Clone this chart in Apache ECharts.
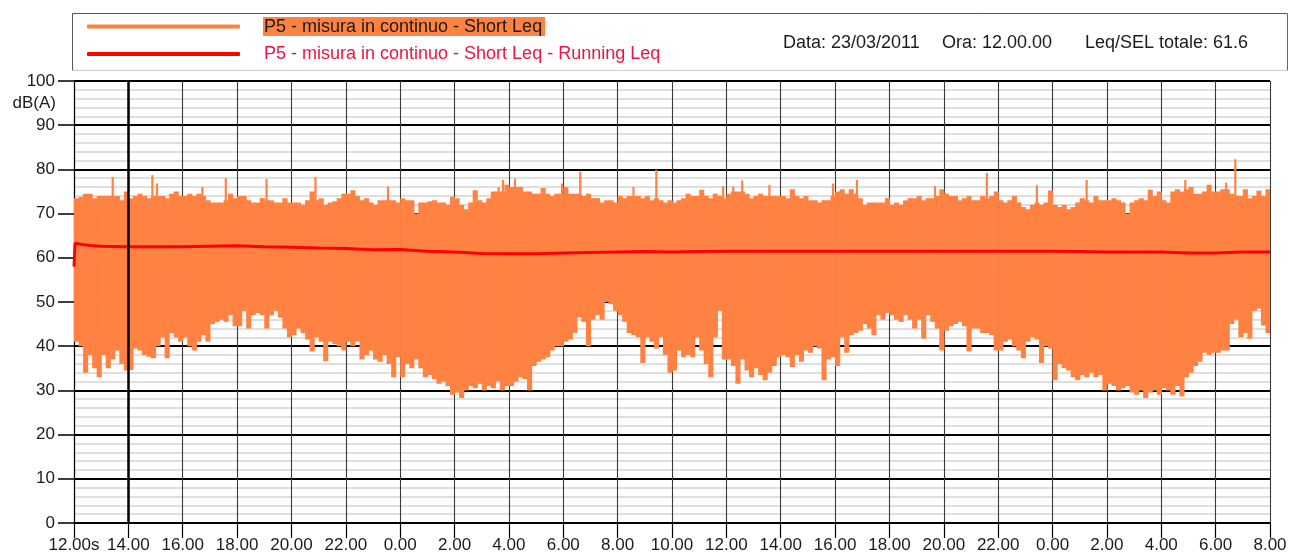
<!DOCTYPE html>
<html>
<head>
<meta charset="utf-8">
<script src="https://cdn.jsdelivr.net/npm/echarts@6/dist/echarts.min.js"></script>
<style>
  html, body { margin: 0; padding: 0; background: #ffffff; }
  #chart { width: 1290px; height: 556px; }
</style>
</head>
<body>
<div id="chart"></div>
<script>
// P5 continuous measurement, started 23/03/2011 at 12.00.00.
// Short Leq envelope: highest and lowest level in each 10-minute block, dB(A).
const blockMinutes = 10;

const shortLeqMax = [
  // 12.00 - 14.00
  73.5, 73.8, 74.5, 74.5, 73.5, 74, 74, 74, 74, 74, 73, 75,
  // 14.00 - 16.00
  73.5, 74, 74.5, 74, 73.5, 74, 74, 74, 73.5, 74.5, 75, 74,
  // 16.00 - 18.00
  74, 74.5, 74, 74.5, 74, 73, 72.5, 72.5, 72.5, 73, 74.5, 73.5,
  // 18.00 - 20.00
  74, 74, 73, 72.5, 72.5, 73.5, 73, 73, 72.5, 72.5, 73.5, 72.5,
  // 20.00 - 22.00
  72.5, 72.5, 72, 73, 75, 73, 73.5, 72, 72.5, 72.8, 73.5, 74.5,
  // 22.00 - 0.00
  74.5, 75.3, 74, 73, 73.5, 72.5, 72, 73, 73, 73, 73, 72.5,
  // 0.00 - 2.00
  73.5, 73, 73, 70, 72.5, 72.5, 72.8, 73, 72.5, 72.5, 72, 73.8,
  // 2.00 - 4.00
  73.5, 72, 71, 72.5, 75.3, 73, 72.5, 73.5, 75, 75, 75, 76.5,
  // 4.00 - 6.00
  76, 76, 76, 75, 75, 74.5, 74.5, 75.8, 74.5, 74, 74.5, 74.5,
  // 6.00 - 8.00
  76, 74.5, 74.5, 74.5, 74, 74.5, 73.5, 73.5, 72.5, 73, 73, 72.5,
  // 8.00 - 10.00
  74, 73.5, 74, 74, 74, 73.5, 74, 73, 73.5, 73, 72.5, 73,
  // 10.00 - 12.00
  72.5, 73, 73.5, 74.5, 74, 74, 75.4, 74, 73.5, 74.5, 74, 73.5,
  // 12.00 - 14.00
  74.5, 75, 75, 75, 74.5, 73.5, 74, 74.5, 74, 74, 74, 74,
  // 14.00 - 16.00
  74, 73.5, 75.5, 74, 73.5, 74, 73, 73, 72.5, 73, 73, 74,
  // 16.00 - 18.00
  75, 75.5, 74.5, 75.5, 74.5, 73.5, 72, 72.5, 72.5, 72.5, 72.5, 73.5,
  // 18.00 - 20.00
  72, 72.5, 72, 73, 73.5, 73.5, 74, 73, 73.5, 73.5, 74, 75.5,
  // 20.00 - 22.00
  74.5, 74, 74, 73, 73.5, 74, 73, 73, 74, 73.5, 74, 75,
  // 22.00 - 0.00
  73, 72.5, 73, 74, 72.5, 71.5, 71, 72, 72.5, 72, 72.5, 75.2,
  // 0.00 - 2.00
  72, 71.5, 72, 71, 71.5, 72.5, 73.5, 73, 72.5, 74, 73, 73,
  // 2.00 - 4.00
  73, 73.5, 73, 72.5, 70, 72.5, 73, 73.5, 73, 75.4, 74, 75,
  // 4.00 - 6.00
  73, 72.5, 75, 75.5, 75, 75.5, 76, 74.5, 74.5, 75, 76.5, 75,
  // 6.00 - 8.00
  75, 75.5, 75.5, 74.5, 74, 74, 75.5, 73.5, 74, 75.2, 74, 75.5
];

const shortLeqMin = [
  // 12.00 - 14.00
  41, 40, 34, 38, 35, 33, 38, 35, 37, 39, 36, 34.5,
  // 14.00 - 16.00
  34.6, 39.5, 39, 38, 37.6, 37.3, 40, 42, 37.3, 43, 42, 41,
  // 16.00 - 18.00
  42, 40, 39, 41, 42.5, 41, 45, 45.5, 46, 45.5, 47, 44.5,
  // 18.00 - 20.00
  44.5, 48, 44, 47, 47.5, 47, 44, 47, 48, 46.5, 44, 42,
  // 20.00 - 22.00
  42.5, 44, 43, 41.5, 38.8, 42, 41, 36.6, 41, 40.5, 40, 39,
  // 22.00 - 0.00
  41, 40, 41, 37, 38, 39, 37, 36.5, 38, 36, 33, 37.5,
  // 0.00 - 2.00
  33, 36, 35, 37, 35, 33, 33.5, 32.5, 31.5, 32, 31, 29,
  // 2.00 - 4.00
  29.5, 28.3, 30, 31, 30.5, 31.5, 30, 31, 30.5, 32, 30, 31,
  // 4.00 - 6.00
  31, 32, 33, 32.5, 30, 35.5, 36.5, 37, 37.5, 39, 40, 40,
  // 6.00 - 8.00
  41, 41.5, 43, 46.5, 45.5, 40, 46, 47, 46, 50, 49.5, 48,
  // 8.00 - 10.00
  47, 45.5, 43, 42.5, 42, 36.2, 42, 41, 39.5, 42, 38, 34,
  // 10.00 - 12.00
  34.5, 39, 37.5, 38, 37.5, 42, 39, 36, 33, 42, 48, 37,
  // 12.00 - 14.00
  37, 35.5, 31.5, 37, 34.5, 33, 35, 33.5, 32.3, 34, 35.5, 37.5,
  // 14.00 - 16.00
  38, 37.5, 35.3, 38, 36.5, 39, 38.5, 40, 39.5, 32.3, 37, 37.5,
  // 16.00 - 18.00
  35.5, 42, 38.5, 42.5, 43, 43.5, 45, 44, 42.5, 47, 46, 47.5,
  // 18.00 - 20.00
  47, 46, 45.5, 47, 46, 44, 46, 41.7, 47, 45.5, 44, 39,
  // 20.00 - 22.00
  43.5, 44.5, 45, 45.5, 44.5, 38.8, 44, 44, 43, 43, 42.5, 39,
  // 22.00 - 0.00
  39, 41, 41.5, 40, 39, 37.3, 41, 42, 41.5, 36.2, 40, 39.5,
  // 0.00 - 2.00
  32.3, 36, 35, 34.5, 33, 32.3, 33.5, 33, 34, 33, 33.5, 30,
  // 2.00 - 4.00
  31.5, 31, 30, 30.5, 31, 29.5, 29, 30, 28.3, 29.5, 30, 29,
  // 4.00 - 6.00
  30.5, 30, 29, 31, 28.6, 33, 34, 35.5, 36.5, 38.5, 38, 38.5,
  // 6.00 - 8.00
  38.5, 39, 39, 45, 46, 42, 43, 41.7, 48, 48.5, 44.7, 43
];

// Isolated short Leq peaks: hours elapsed since 12.00 and level in dB(A)
const peakHours = [
  1.42, 2.88, 3.05, 4.72, 5.58, 7.08, 8.88, 11.55, 15.62, 15.78, 16.22,
  17.95, 18.62, 20.58, 21.42, 23.88, 24.25, 24.58, 25.58, 27.92, 28.8,
  31.67, 33.58, 35.42, 37.25, 40.88, 42.38, 42.72
];
const peakValues = [
  78.3, 78.7, 76.8, 76, 78, 77.8, 78.3, 76.1, 76, 77.6, 77.9, 76.8, 79.5,
  76, 79.9, 76.2, 76.1, 77.5, 76.5, 76.8, 77.6, 76.2, 79.2, 76.4, 77.6,
  77.6, 77, 82.3
];

// Running Leq: hours elapsed since 12.00 and level in dB(A)
const runningLeqHours = [
  0, 0.04, 0.3, 0.7, 1, 2, 3, 4, 5, 6, 7, 8, 9, 10, 11, 12, 13, 14, 15, 16,
  17, 18, 19, 20, 21, 22, 23, 24, 26, 28, 30, 32, 34, 36, 37, 38, 39, 40,
  41, 42, 43, 44
];
const runningLeqValues = [
  58.0, 63.3, 63.0, 62.7, 62.6, 62.5, 62.5, 62.5, 62.6, 62.7, 62.5, 62.4,
  62.2, 62.1, 61.8, 61.9, 61.5, 61.3, 61.0, 60.9, 60.9, 61.1, 61.2, 61.3,
  61.4, 61.3, 61.4, 61.5, 61.5, 61.5, 61.5, 61.5, 61.5, 61.5, 61.4, 61.3,
  61.3, 61.3, 61.1, 61.1, 61.3, 61.3
];

// Clock labels every two hours, 12.00 to 8.00 two days later
const hourLabels = [
  '12.00s', '14.00', '16.00', '18.00', '20.00', '22.00', '0.00', '2.00',
  '4.00', '6.00', '8.00', '10.00', '12.00', '14.00', '16.00', '18.00',
  '20.00', '22.00', '0.00', '2.00', '4.00', '6.00', '8.00'
];
const cursorHour = 2; // cursor placed on 14.00

const seriesShort = 'P5 - misura in continuo - Short Leq';
const seriesRunning = 'P5 - misura in continuo - Short Leq - Running Leq';
const orange = '#ff8242';
const red = '#ff0000';
const fontFamily = '"Liberation Sans", Arial, sans-serif';
const peakBase = 66; // peaks are drawn from inside the band up to their level

const blockHours = blockMinutes / 60;
const shortLeqData = shortLeqMax.map((hi, i) => [i * blockHours, shortLeqMin[i], hi]);
const peakData = peakHours.map((h, i) => [h, peakValues[i]]);
const runningLeqData = runningLeqHours.map((h, i) => [h, runningLeqValues[i]]);

const chart = echarts.init(document.getElementById('chart'), null, { renderer: 'canvas' });

chart.setOption({
  animation: false,
  backgroundColor: '#ffffff',
  textStyle: { fontFamily: fontFamily },
  grid: { left: 74, right: 20, top: 81, bottom: 33, containLabel: false },
  legend: {
    orient: 'vertical',
    left: 82,
    top: 12,
    itemWidth: 153,
    itemHeight: 4,
    itemGap: 9,
    icon: 'roundRect',
    selectedMode: false,
    data: [seriesShort, seriesRunning],
    formatter: function (name) {
      return name === seriesShort ? '{g| }{a|' + name + '}' : '{g| }{b|' + name + '}';
    },
    textStyle: {
      fontFamily: fontFamily,
      fontSize: 18,
      rich: {
        g: { width: 18 },
        a: { fontSize: 18, color: '#1b1b1b', backgroundColor: orange, padding: [1, 3, 0, 1], fontFamily: fontFamily },
        b: { fontSize: 18, color: '#f3123f', padding: [1, 3, 0, 1], fontFamily: fontFamily }
      }
    }
  },
  graphic: [
    { type: 'line', silent: true, z: 0, shape: { x1: 72.5, y1: 13.5, x2: 1287.5, y2: 13.5 }, style: { stroke: '#555555', lineWidth: 1 } },
    { type: 'line', silent: true, z: 0, shape: { x1: 72.5, y1: 13.5, x2: 72.5, y2: 70.5 }, style: { stroke: '#555555', lineWidth: 1 } },
    { type: 'line', silent: true, z: 0, shape: { x1: 1287.5, y1: 13.5, x2: 1287.5, y2: 70.5 }, style: { stroke: '#666666', lineWidth: 1 } },
    { type: 'line', silent: true, z: 0, shape: { x1: 72.5, y1: 70.5, x2: 1287.5, y2: 70.5 }, style: { stroke: '#cccccc', lineWidth: 1 } },
    { type: 'text', silent: true, left: 783, top: 34, style: { text: 'Data: 23/03/2011', font: '18px ' + fontFamily, fill: '#1b1b1b' } },
    { type: 'text', silent: true, left: 942, top: 34, style: { text: 'Ora: 12.00.00', font: '18px ' + fontFamily, fill: '#1b1b1b' } },
    { type: 'text', silent: true, left: 1085, top: 34, style: { text: 'Leq/SEL totale: 61.6', font: '18px ' + fontFamily, fill: '#1b1b1b' } },
    { type: 'text', silent: true, right: 1290 - 56, top: 95, style: { text: 'dB(A)', font: '17px ' + fontFamily, fill: '#1b1b1b', textAlign: 'right' } }
  ],
  xAxis: {
    type: 'value',
    min: 0,
    max: 44,
    interval: 2,
    axisLine: { show: true, onZero: false, lineStyle: { color: '#000000', width: 1.5 } },
    axisTick: { show: true, length: 15, lineStyle: { color: '#000000', width: 1.2 } },
    axisLabel: {
      margin: 14,
      fontSize: 17,
      color: '#1b1b1b',
      fontFamily: fontFamily,
      formatter: function (v) { return hourLabels[Math.round(v / 2)]; }
    },
    splitLine: { show: true, lineStyle: { color: '#3a3a3a', width: 1.1 } }
  },
  yAxis: {
    type: 'value',
    min: 0,
    max: 100,
    interval: 10,
    axisLine: { show: true, lineStyle: { color: '#000000', width: 1.2 } },
    axisTick: { show: true, length: 16, lineStyle: { color: '#000000', width: 1.5 } },
    axisLabel: { margin: 19, fontSize: 17, color: '#1b1b1b', fontFamily: fontFamily },
    splitLine: { show: true, lineStyle: { color: '#000000', width: 2 } },
    minorTick: { show: false, splitNumber: 5 },
    minorSplitLine: { show: true, lineStyle: { color: '#d4d4d4', width: 1.6 } }
  },
  series: [
    {
      type: 'line',
      data: [],
      silent: true,
      z: 1,
      markLine: {
        silent: true,
        symbol: 'none',
        label: { show: false },
        lineStyle: { color: '#000000', width: 2.5, type: 'solid' },
        data: [{ xAxis: cursorHour }]
      }
    },
    {
      name: seriesShort,
      type: 'custom',
      z: 2,
      clip: true,
      itemStyle: { color: orange },
      encode: { x: 0, y: [1, 2] },
      data: shortLeqData,
      renderItem: function (params, api) {
        const t = api.value(0);
        const top = api.coord([t, api.value(2)]);
        const bottom = api.coord([t + blockHours, api.value(1)]);
        return {
          type: 'rect',
          shape: { x: top[0], y: top[1], width: bottom[0] - top[0] + 0.6, height: bottom[1] - top[1] },
          style: { fill: orange }
        };
      }
    },
    {
      type: 'custom',
      z: 2,
      clip: true,
      silent: true,
      itemStyle: { color: orange },
      encode: { x: 0, y: 1 },
      data: peakData,
      renderItem: function (params, api) {
        const top = api.coord([api.value(0), api.value(1)]);
        const base = api.coord([api.value(0), peakBase]);
        return {
          type: 'rect',
          shape: { x: top[0] - 1, y: top[1], width: 2.2, height: base[1] - top[1] },
          style: { fill: orange }
        };
      }
    },
    {
      name: seriesRunning,
      type: 'line',
      z: 3,
      data: runningLeqData,
      showSymbol: false,
      symbol: 'none',
      color: red,
      lineStyle: { color: red, width: 3 }
    }
  ]
});
</script>
</body>
</html>
